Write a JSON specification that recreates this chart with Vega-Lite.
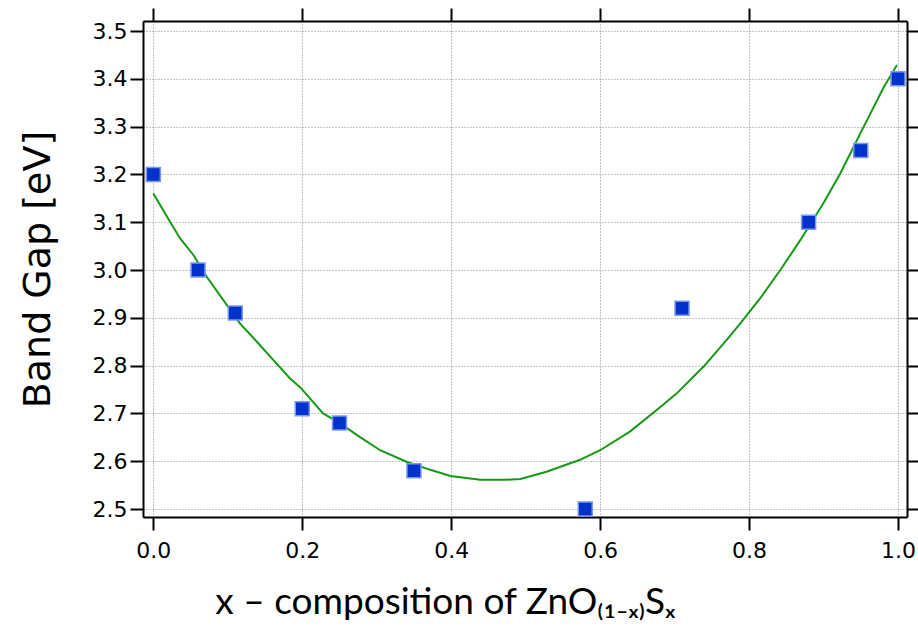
{
  "$schema": "https://vega.github.io/schema/vega-lite/v6.json",
  "width": 764,
  "height": 496,
  "autosize": {"type": "none"},
  "padding": {"left": 143, "top": 21, "right": 11, "bottom": 118},
  "background": "white",
  "config": {"view": {"stroke": null}},
  "datasets": {
    "fit": [
      {"x": 0.0, "y": 3.160},
      {"x": 0.0224, "y": 3.101},
      {"x": 0.036, "y": 3.066},
      {"x": 0.054, "y": 3.031},
      {"x": 0.0717, "y": 2.986},
      {"x": 0.094, "y": 2.937},
      {"x": 0.1165, "y": 2.888},
      {"x": 0.139, "y": 2.850},
      {"x": 0.161, "y": 2.812},
      {"x": 0.1836, "y": 2.773},
      {"x": 0.197, "y": 2.755},
      {"x": 0.228, "y": 2.700},
      {"x": 0.251, "y": 2.679},
      {"x": 0.273, "y": 2.655},
      {"x": 0.3045, "y": 2.623},
      {"x": 0.340, "y": 2.599},
      {"x": 0.372, "y": 2.582},
      {"x": 0.399, "y": 2.569},
      {"x": 0.439, "y": 2.561},
      {"x": 0.472, "y": 2.561},
      {"x": 0.493, "y": 2.563},
      {"x": 0.528, "y": 2.578},
      {"x": 0.573, "y": 2.603},
      {"x": 0.600, "y": 2.623},
      {"x": 0.640, "y": 2.662},
      {"x": 0.676, "y": 2.707},
      {"x": 0.703, "y": 2.742},
      {"x": 0.739, "y": 2.798},
      {"x": 0.770, "y": 2.854},
      {"x": 0.788, "y": 2.888},
      {"x": 0.815, "y": 2.941},
      {"x": 0.842, "y": 3.000},
      {"x": 0.869, "y": 3.063},
      {"x": 0.900, "y": 3.140},
      {"x": 0.9225, "y": 3.202},
      {"x": 0.954, "y": 3.300},
      {"x": 0.981, "y": 3.383},
      {"x": 0.9987, "y": 3.429}
    ],
    "measured": [
      {"x": 0.0, "y": 3.20},
      {"x": 0.06, "y": 3.00},
      {"x": 0.11, "y": 2.91},
      {"x": 0.20, "y": 2.71},
      {"x": 0.25, "y": 2.68},
      {"x": 0.35, "y": 2.58},
      {"x": 0.58, "y": 2.50},
      {"x": 0.71, "y": 2.92},
      {"x": 0.88, "y": 3.10},
      {"x": 0.95, "y": 3.25},
      {"x": 1.00, "y": 3.40}
    ]
  },
  "layer": [
    {
      "data": {"name": "fit"},
      "mark": {"type": "line", "stroke": "#149914", "strokeWidth": 2, "interpolate": "linear"},
      "encoding": {
        "x": {
          "field": "x", "type": "quantitative",
          "scale": {"domain": [-0.0139, 1.0121], "nice": false, "zero": false},
          "axis": {
            "orient": "top", "title": null, "labels": false, "grid": false,
            "values": [0, 0.2, 0.4, 0.6, 0.8, 1.0],
            "domainColor": "black", "domainWidth": 2,
            "tickColor": "black", "tickWidth": 2, "tickSize": 13
          }
        },
        "y": {
          "field": "y", "type": "quantitative",
          "scale": {"domain": [2.4833, 3.521], "nice": false, "zero": false},
          "axis": {
            "orient": "right", "title": null, "labels": false, "grid": false,
            "values": [2.5, 2.6, 2.7, 2.8, 2.9, 3.0, 3.1, 3.2, 3.3, 3.4, 3.5],
            "domainColor": "black", "domainWidth": 2,
            "tickColor": "black", "tickWidth": 2, "tickSize": 13
          }
        }
      }
    },
    {
      "data": {"name": "measured"},
      "mark": {"type": "point", "shape": "square", "filled": true, "size": 196, "fill": "#0033cc", "stroke": "#7b98ee", "strokeWidth": 1.5, "opacity": 1},
      "encoding": {
        "x": {
          "field": "x", "type": "quantitative",
          "scale": {"domain": [-0.0139, 1.0121], "nice": false, "zero": false},
          "axis": {
            "orient": "bottom",
            "title": "x – composition of ZnO₍₁₋ₓ₎Sₓ",
            "titleFont": "Lato", "titleFontSize": 37, "titleFontWeight": "normal", "titleColor": "black",
            "titlePadding": 23, "titleX": 302, "titleAlign": "center",
            "values": [0, 0.2, 0.4, 0.6, 0.8, 1.0],
            "format": ".1f",
            "labelFont": "DejaVu Sans", "labelFontSize": 22, "labelColor": "black", "labelPadding": 10,
            "domainColor": "black", "domainWidth": 2,
            "tickColor": "black", "tickWidth": 2, "tickSize": 13,
            "grid": true, "gridColor": "#8a8a8a", "gridDash": [1, 2], "gridWidth": 1
          }
        },
        "y": {
          "field": "y", "type": "quantitative",
          "scale": {"domain": [2.4833, 3.521], "nice": false, "zero": false},
          "axis": {
            "orient": "left",
            "title": "Band Gap [eV]",
            "titleFont": "DejaVu Sans", "titleFontSize": 38, "titleFontWeight": "normal", "titleColor": "black",
            "titlePadding": 35,
            "values": [2.5, 2.6, 2.7, 2.8, 2.9, 3.0, 3.1, 3.2, 3.3, 3.4, 3.5],
            "format": ".1f",
            "labelFont": "DejaVu Sans", "labelFontSize": 22, "labelColor": "black", "labelPadding": 3,
            "domainColor": "black", "domainWidth": 2,
            "tickColor": "black", "tickWidth": 2, "tickSize": 13,
            "grid": true, "gridColor": "#8a8a8a", "gridDash": [1, 2], "gridWidth": 1
          }
        }
      }
    }
  ],
  "resolve": {"axis": {"x": "independent", "y": "independent"}}
}
